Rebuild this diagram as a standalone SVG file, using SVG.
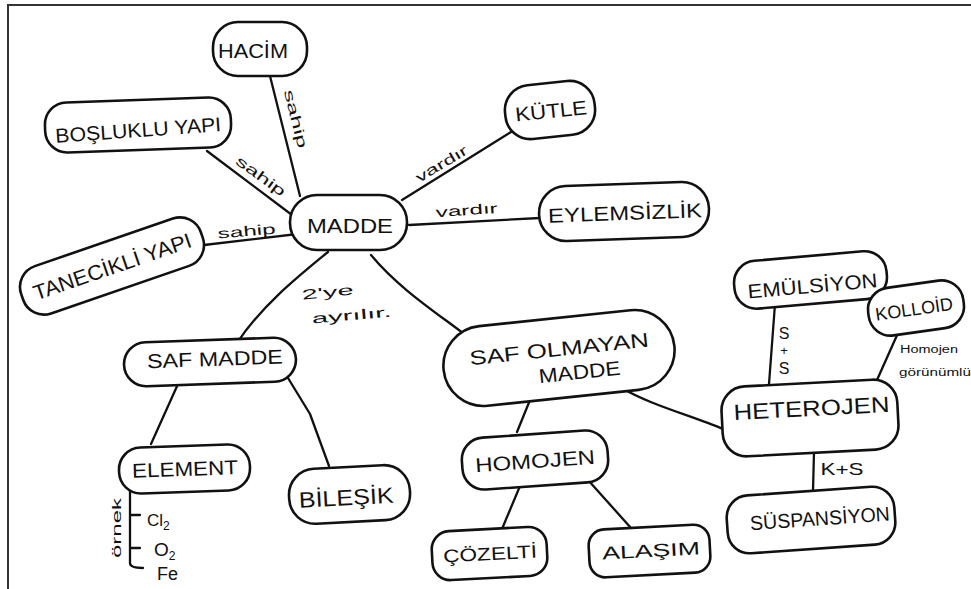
<svg xmlns="http://www.w3.org/2000/svg" width="971" height="589" viewBox="0 0 971 589">
<style>
.bg{fill:#fff}
.frame{fill:none;stroke:#333;stroke-width:2}
.n{fill:#fff;stroke:#111;stroke-width:2.6}
.c{fill:none;stroke:#111;stroke-width:2.3;stroke-linecap:round;stroke-linejoin:round}
.t{font-family:"Liberation Sans",Arial,sans-serif;font-size:20px;fill:#111;text-anchor:middle}
.l{font-family:"Liberation Sans",Arial,sans-serif;font-size:14px;fill:#111;text-anchor:middle}
.s{font-family:"Liberation Sans",Arial,sans-serif;font-size:10px;fill:#111}
</style>
<rect class="bg" x="0" y="0" width="971" height="589"/>
<path class="frame" d="M8,589 L8,5 L971,5"/>

<g id="connectors">
<path class="c" d="M270,76 L300,196"/>
<path class="c" d="M207,151 L292,215"/>
<path class="c" d="M204,245 L306,233"/>
<path class="c" d="M402,200 L511,132"/>
<path class="c" d="M409,225 L540,218"/>
<path class="c" d="M328,252 C300,275 262,305 237,343"/>
<path class="c" d="M371,255 C400,290 440,315 468,337"/>
<path class="c" d="M178,384 L151,444"/>
<path class="c" d="M288,378 L310,414 L329,466"/>
<path class="c" d="M530,400 L517,432"/>
<path class="c" d="M520,486 L502,529"/>
<path class="c" d="M588,480 L631,528"/>
<path class="c" d="M620,387 C650,405 690,415 723,429"/>
<path class="c" d="M769,384 L775,304"/>
<path class="c" d="M877,380 L898,333"/>
<path class="c" d="M814,452 L813,491"/>
<path class="c" d="M130,490 L130,563 Q130,568 143,568 M130,515 L140,515 M130,548 L140,548"/>
<text class="l" transform="translate(291,120) rotate(76)" textLength="60" lengthAdjust="spacingAndGlyphs">sahip</text>
<text class="l" transform="translate(258,180) rotate(36)" textLength="58" lengthAdjust="spacingAndGlyphs">sahip</text>
<text class="l" transform="translate(247,236) rotate(-5)" textLength="58" lengthAdjust="spacingAndGlyphs">sahip</text>
<text class="l" transform="translate(444,168) rotate(-31)" textLength="58" lengthAdjust="spacingAndGlyphs">vardır</text>
<text class="l" transform="translate(467,215) rotate(-4)" textLength="62" lengthAdjust="spacingAndGlyphs">vardır</text>
<text class="l" transform="translate(328,297) rotate(-6)" textLength="52" lengthAdjust="spacingAndGlyphs">2'ye</text>
<text class="l" transform="translate(352,320) rotate(-5)" textLength="80" lengthAdjust="spacingAndGlyphs">ayrılır.</text>
<text class="l" x="784" y="339" style="font-size:16px">S</text>
<text class="l" x="784" y="355" style="font-size:13px">+</text>
<text class="l" x="784" y="374" style="font-size:16px">S</text>
<text class="l" x="842" y="475" style="font-size:17px" textLength="43" lengthAdjust="spacingAndGlyphs">K+S</text>
<text class="s" x="900" y="353" textLength="58" lengthAdjust="spacingAndGlyphs">Homojen</text>
<text class="s" x="899" y="376" textLength="72" lengthAdjust="spacingAndGlyphs">görünümlü</text>
<text class="l" transform="translate(121,528) rotate(-90)" style="font-size:12px" textLength="60" lengthAdjust="spacingAndGlyphs">örnek</text>
<text class="l" x="147" y="526" style="text-anchor:start;font-size:17px">Cl<tspan dy="4" style="font-size:12px">2</tspan></text>
<text class="l" x="154" y="556" style="text-anchor:start;font-size:19px">O<tspan dy="4" style="font-size:12px">2</tspan></text>
<text class="l" x="157" y="580" style="text-anchor:start;font-size:18px">Fe</text>
</g>

<g id="hacim"><rect class="n" x="213" y="22" width="94" height="54" rx="25"/><text class="t" x="253" y="58" textLength="70" lengthAdjust="spacingAndGlyphs">HACİM</text></g>
<g id="bosluklu-yapi" transform="rotate(-2 138 125)"><rect class="n" x="45" y="100" width="186" height="50" rx="22"/><text class="t" x="138" y="137" textLength="166" lengthAdjust="spacingAndGlyphs" transform="rotate(-2 138 130)">BOŞLUKLU YAPI</text></g>
<g id="madde"><rect class="n" x="290" y="195" width="117" height="55" rx="27"/><text class="t" x="350" y="233" textLength="86" lengthAdjust="spacingAndGlyphs">MADDE</text></g>
<g id="tanecikli-yapi" transform="rotate(-19 112 266)"><rect class="n" x="17" y="241" width="190" height="50" rx="22"/><text class="t" x="112" y="274" style="font-size:21px" textLength="166" lengthAdjust="spacingAndGlyphs">TANECİKLİ YAPI</text></g>
<g id="kutle" transform="rotate(-6 550 110)"><rect class="n" x="505" y="83" width="90" height="54" rx="25"/><text class="t" x="551" y="118" textLength="72" lengthAdjust="spacingAndGlyphs">KÜTLE</text></g>
<g id="eylemsizlik" transform="rotate(-2 624 211)"><rect class="n" x="539" y="184" width="170" height="55" rx="27"/><text class="t" x="625" y="220" textLength="154" lengthAdjust="spacingAndGlyphs">EYLEMSİZLİK</text></g>
<g id="emulsiyon" transform="rotate(-5 810 280)"><rect class="n" x="734" y="256" width="153" height="48" rx="22"/><text class="t" x="812" y="293" textLength="130" lengthAdjust="spacingAndGlyphs">EMÜLSİYON</text></g>
<g id="kolloid" transform="rotate(-8 916 308)"><rect class="n" x="868" y="284" width="96" height="48" rx="22"/><text class="t" x="914" y="315" style="font-size:18px" textLength="78" lengthAdjust="spacingAndGlyphs">KOLLOİD</text></g>
<g id="saf-olmayan-madde" transform="rotate(-6 559 358)"><rect class="n" x="443" y="318" width="232" height="80" rx="40"/><text class="t" x="560" y="356" textLength="180" lengthAdjust="spacingAndGlyphs">SAF OLMAYAN</text><text class="t" x="578" y="381" textLength="82" lengthAdjust="spacingAndGlyphs">MADDE</text></g>
<g id="heterojen" transform="rotate(-3 810 418)"><rect class="n" x="722" y="383" width="176" height="70" rx="24"/><text class="t" x="812" y="416" style="font-size:22px" textLength="156" lengthAdjust="spacingAndGlyphs">HETEROJEN</text></g>
<g id="suspansiyon" transform="rotate(-4 811 520)"><rect class="n" x="727" y="491" width="168" height="58" rx="22"/><text class="t" x="820" y="526" textLength="140" lengthAdjust="spacingAndGlyphs">SÜSPANSİYON</text></g>
<g id="homojen" transform="rotate(-4 535 460)"><rect class="n" x="462" y="434" width="146" height="52" rx="22"/><text class="t" x="535" y="468" textLength="120" lengthAdjust="spacingAndGlyphs">HOMOJEN</text></g>
<g id="cozelti" transform="rotate(-3 490 553)"><rect class="n" x="432" y="529" width="115" height="49" rx="18"/><text class="t" x="490" y="560" style="font-size:18px" textLength="94" lengthAdjust="spacingAndGlyphs">ÇÖZELTİ</text></g>
<g id="alasim" transform="rotate(-3 650 551)"><rect class="n" x="589" y="527" width="121" height="48" rx="16"/><text class="t" x="651" y="557" style="font-size:18px" textLength="98" lengthAdjust="spacingAndGlyphs">ALAŞIM</text></g>
<g id="saf-madde" transform="rotate(-2 210 362)"><rect class="n" x="124" y="340" width="172" height="44" rx="22"/><text class="t" x="215" y="366" textLength="136" lengthAdjust="spacingAndGlyphs">SAF MADDE</text></g>
<g id="element" transform="rotate(-2 184 469)"><rect class="n" x="119" y="446" width="131" height="46" rx="22"/><text class="t" x="185" y="476" textLength="106" lengthAdjust="spacingAndGlyphs">ELEMENT</text></g>
<g id="bilesik" transform="rotate(-3 349 494)"><rect class="n" x="289" y="467" width="121" height="55" rx="26"/><text class="t" x="346" y="505" style="font-size:22px" textLength="95" lengthAdjust="spacingAndGlyphs">BİLEŞİK</text></g>
</svg>
